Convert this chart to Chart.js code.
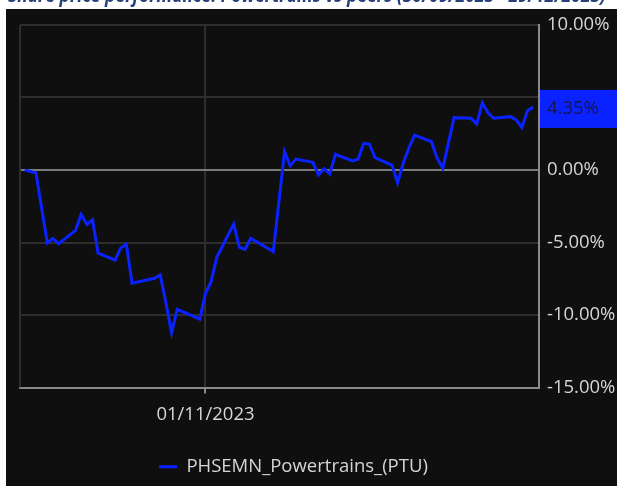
<!DOCTYPE html>
<html>
<head>
<meta charset="utf-8">
<script src="https://cdn.jsdelivr.net/npm/chart.js@4/dist/chart.umd.min.js"></script>
<style>
  html, body { margin: 0; padding: 0; background: #ffffff; }
  #wrap { position: relative; width: 617px; height: 486px; }
</style>
</head>
<body>
<div id="wrap"><canvas id="chart" width="617" height="486"></canvas></div>
<script>
// performance since 30/09/2023, in %
const dates = [
  '2023-09-30', '2023-10-02', '2023-10-04', '2023-10-05', '2023-10-06',
  '2023-10-09', '2023-10-10', '2023-10-11', '2023-10-12', '2023-10-13',
  '2023-10-16', '2023-10-17', '2023-10-18', '2023-10-19',
  '2023-10-23', '2023-10-24', '2023-10-25', '2023-10-26', '2023-10-27',
  '2023-10-31', '2023-11-01', '2023-11-02', '2023-11-03',
  '2023-11-06', '2023-11-07', '2023-11-08', '2023-11-09',
  '2023-11-13', '2023-11-15', '2023-11-16', '2023-11-17',
  '2023-11-20', '2023-11-21', '2023-11-22', '2023-11-23', '2023-11-24',
  '2023-11-27', '2023-11-28', '2023-11-29', '2023-11-30', '2023-12-01',
  '2023-12-04', '2023-12-05', '2023-12-06', '2023-12-07', '2023-12-08',
  '2023-12-11', '2023-12-12', '2023-12-13', '2023-12-15',
  '2023-12-18', '2023-12-19', '2023-12-20', '2023-12-21', '2023-12-22',
  '2023-12-25', '2023-12-26', '2023-12-27', '2023-12-28', '2023-12-29'
];
const ptuValues = [
  0.00, -0.20, -5.03, -4.72, -5.08,
  -4.16, -3.06, -3.75, -3.43, -5.74,
  -6.21, -5.38, -5.12, -7.81,
  -7.47, -7.24, -9.19, -11.22, -9.61,
  -10.28, -8.50, -7.70, -6.02,
  -3.72, -5.33, -5.47, -4.71,
  -5.63, 1.28, 0.28, 0.75,
  0.53, -0.34, 0.09, -0.28, 1.08,
  0.62, 0.74, 1.84, 1.79, 0.85,
  0.34, -0.88, 0.46, 1.52, 2.41,
  1.95, 0.81, 0.12, 3.61,
  3.57, 3.17, 4.64, 3.95, 3.57,
  3.68, 3.45, 2.94, 4.09, 4.35
];
const seriesName = 'PHSEMN_Powertrains_(PTU)';
const xTickDates = ['2023-11-01'];
const yTicks = [-15, -10, -5, 0, 5, 10];
const titleText = 'Share price performance: Powertrains vs peers (30/09/2023 - 29/12/2023)';

const DAY = 86400000;
const t0 = Date.parse(dates[0]);
const dayOf = d => (Date.parse(d) - t0) / DAY;
const fmtDate = v => {
  const d = new Date(t0 + v * DAY);
  const p = n => String(n).padStart(2, '0');
  return p(d.getUTCDate()) + '/' + p(d.getUTCMonth() + 1) + '/' + d.getUTCFullYear();
};
const points = dates.map((d, i) => ({ x: dayOf(d), y: ptuValues[i] }));
const lastValue = ptuValues[ptuValues.length - 1];

const FONT = '"Open Sans", "DejaVu Sans", sans-serif';
const FSIZE = 18.5;
const BLUE = '#0a22ff';
const TXT = '#d6d6d6';

const frame = {
  id: 'frame',
  afterLayout(chart) {
    // legend sits a bit left of centre in the original
    chart.legend.left -= 25;
    chart.legend.right -= 25;
  },
  beforeDraw(chart) {
    const c = chart.ctx;
    c.save();
    c.fillStyle = '#ffffff';
    c.fillRect(0, 0, chart.width, chart.height);
    // title, mostly cut off at the top
    c.beginPath();
    c.rect(0, 0, chart.width, 9);
    c.clip();
    c.fillStyle = '#27407a';
    c.font = 'italic bold 19px ' + FONT;
    c.textBaseline = 'alphabetic';
    c.fillText(titleText, 8, 2, 598);
    c.restore();
    c.save();
    c.fillStyle = '#0f0f0f';
    c.fillRect(6, 9, chart.width - 6, chart.height - 9);
    c.restore();
  },
  afterDraw(chart) {
    const c = chart.ctx;
    const a = chart.chartArea;
    const y = chart.scales.y;
    c.save();
    c.strokeStyle = '#2e2e2e';
    c.lineWidth = 2;
    c.beginPath();
    c.moveTo(a.left, a.top);
    c.lineTo(a.left, a.bottom);
    c.stroke();
    // last value marker
    const py = y.getPixelForValue(lastValue) + 2;
    c.fillStyle = BLUE;
    c.fillRect(a.right + 1, py - 19, chart.width - a.right - 1, 38);
    c.fillStyle = '#15154a';
    c.font = FSIZE + 'px ' + FONT;
    c.textBaseline = 'middle';
    c.fillText(lastValue.toFixed(2) + '%', a.right + 8, py);
    c.restore();
  }
};

new Chart(document.getElementById('chart'), {
  type: 'line',
  data: {
    datasets: [{
      label: seriesName,
      data: points,
      borderColor: BLUE,
      backgroundColor: BLUE,
      borderWidth: 3,
      pointRadius: 0,
      tension: 0,
      fill: false
    }]
  },
  options: {
    responsive: false,
    animation: false,
    devicePixelRatio: 1,
    layout: { padding: { left: 20, top: 25, right: 0, bottom: 0 } },
    plugins: {
      legend: {
        position: 'bottom',
        labels: {
          color: TXT,
          font: { family: FONT, size: FSIZE },
          usePointStyle: true,
          pointStyle: 'line',
          pointStyleWidth: 18,
          padding: 9
        }
      },
      tooltip: { enabled: false }
    },
    scales: {
      x: {
        type: 'linear',
        min: -0.83,
        max: 91.03,
        afterBuildTicks: s => { s.ticks = xTickDates.map(d => ({ value: dayOf(d) })); },
        afterFit: s => { s.height = 61; },
        ticks: {
          color: TXT,
          font: { family: FONT, size: FSIZE },
          padding: 10,
          maxRotation: 0,
          callback: v => fmtDate(v)
        },
        grid: { color: '#2e2e2e', lineWidth: 2, tickColor: '#8a8a8a', tickLength: 6 },
        border: { color: '#8a8a8a', width: 2 }
      },
      y: {
        position: 'right',
        min: -15,
        max: 10,
        afterBuildTicks: s => { s.ticks = yTicks.map(v => ({ value: v })); },
        afterFit: s => { s.width = 78; },
        ticks: {
          // the 5% label sits under the last-value marker
          color: c => c.tick && c.tick.value === 5 ? 'rgba(0,0,0,0)' : TXT,
          font: { family: FONT, size: FSIZE },
          padding: 8,
          callback: v => v.toFixed(2) + '%'
        },
        grid: {
          drawTicks: false,
          color: c => c.tick && c.tick.value === 0 ? '#7a7a7a' : '#2e2e2e',
          lineWidth: 2
        },
        border: { color: '#8a8a8a', width: 2 }
      }
    }
  },
  plugins: [frame]
});
</script>
</body>
</html>
